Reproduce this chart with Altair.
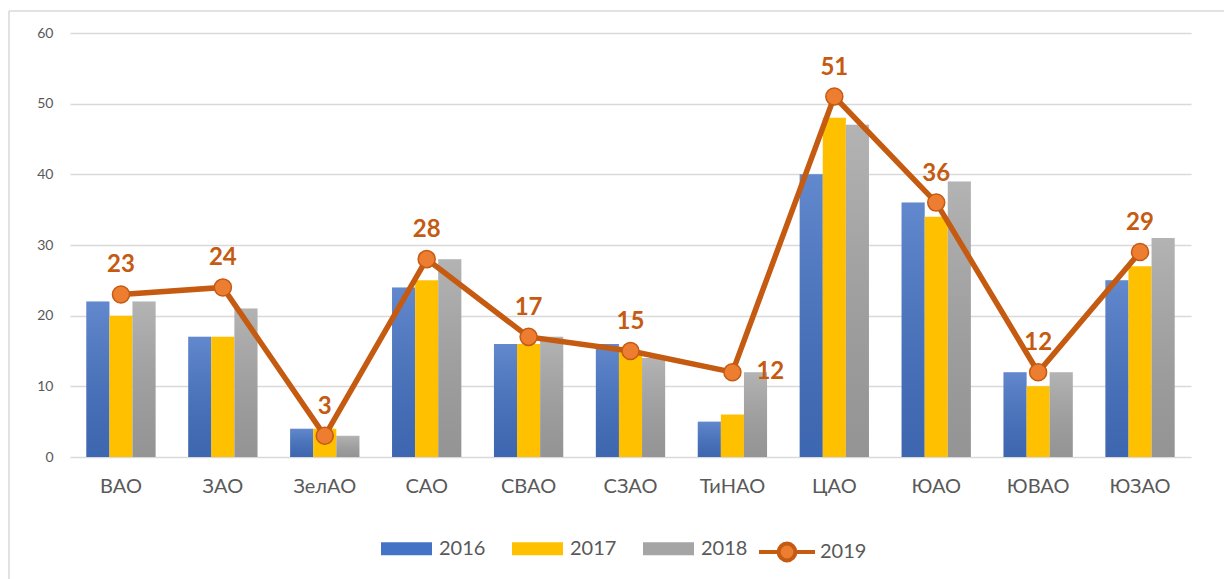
import altair as alt
import pandas as pd

districts = ["ВАО", "ЗАО", "ЗелАО", "САО", "СВАО", "СЗАО", "ТиНАО", "ЦАО", "ЮАО", "ЮВАО", "ЮЗАО"]
v2016 = [22, 17, 4, 24, 16, 16, 5, 40, 36, 12, 25]
v2017 = [20, 17, 4, 25, 16, 15, 6, 48, 34, 10, 27]
v2018 = [22, 21, 3, 28, 17, 14, 12, 47, 39, 12, 31]
v2019 = [23, 24, 3, 28, 17, 15, 12, 51, 36, 12, 29]
bar_years = ["2016", "2017", "2018"]
line_year = "2019"
bar_colors = ["#4472C4", "#FFC000", "#A5A5A5"]

rows = []
for yr, vals in zip(bar_years, [v2016, v2017, v2018]):
    for d, v in zip(districts, vals):
        rows.append({"district": d, "year": yr, "value": v})
bars_df = pd.DataFrame(rows)
line_df = pd.DataFrame({"district": districts, "value": v2019, "series": [line_year] * len(districts)})

FONT = "Lato"
W, H = 1121, 424

x_enc = alt.X("district:N", sort=districts, title=None,
              scale=alt.Scale(paddingInner=0.32, paddingOuter=0.16),
              axis=alt.Axis(labelFontSize=20, labelColor="#595959", labelPadding=19,
                            ticks=False, domain=False, labelAngle=0, labelFont=FONT))
y_enc = alt.Y("value:Q", title=None, scale=alt.Scale(domain=[0, 60], nice=False),
              axis=alt.Axis(values=[0, 10, 20, 30, 40, 50, 60], labelFontSize=14,
                            labelColor="#595959", labelPadding=17, ticks=False, domain=False,
                            gridColor="#d9d9d9", gridWidth=1.3, labelFont=FONT))

rect_sym = "M-1,-0.255H1V0.255H-1Z"
bars = alt.Chart(bars_df).mark_bar().encode(
    x=x_enc, y=y_enc,
    xOffset=alt.XOffset("year:N", sort=bar_years, scale=alt.Scale(paddingInner=0, paddingOuter=0)),
    color=alt.Color("year:N", sort=bar_years,
                    scale=alt.Scale(domain=bar_years, range=bar_colors),
                    legend=alt.Legend(title=None, orient="none", direction="horizontal",
                                      legendX=310, legendY=489, symbolType=rect_sym,
                                      symbolSize=2601, labelFontSize=20, labelColor="#595959",
                                      labelFont=FONT, labelOffset=6, columnPadding=25,
                                      symbolOpacity=1)),
)

shade = alt.Chart(bars_df).transform_filter(
    alt.datum.year != "2017"
).mark_bar(
    color=alt.Gradient(gradient="linear", x1=0, x2=0, y1=0, y2=1,
                       stops=[alt.GradientStop(color="rgba(255,255,255,0.16)", offset=0),
                              alt.GradientStop(color="rgba(0,0,0,0.10)", offset=1)])
).encode(
    x=alt.X("district:N", sort=districts),
    y=alt.Y("value:Q"),
    xOffset=alt.XOffset("year:N", sort=bar_years),
)

line = alt.Chart(line_df).mark_line(strokeWidth=5.5, color="#C55A11").encode(
    x=alt.X("district:N", sort=districts), y=alt.Y("value:Q"))

line_sym = ("M-1,0H-0.3M0.3,0H1"
            "M-0.3,0A0.3,0.3 0 1,0 0.3,0A0.3,0.3 0 1,0 -0.3,0Z")
points = alt.Chart(line_df).mark_point(filled=True, size=290, stroke="#C55A11",
                                       strokeWidth=1.5, opacity=1).encode(
    x=alt.X("district:N", sort=districts), y=alt.Y("value:Q"),
    fill=alt.Fill("series:N", scale=alt.Scale(domain=[line_year], range=["#ED7D31"]),
                  legend=alt.Legend(title=None, orient="none", direction="horizontal",
                                    legendX=687, legendY=489, symbolType=line_sym,
                                    symbolSize=3136, symbolStrokeColor="#C55A11",
                                    symbolStrokeWidth=4, labelFontSize=20,
                                    labelColor="#595959", labelFont=FONT, labelOffset=3,
                                    symbolOpacity=1)),
)

labels_above = alt.Chart(line_df).transform_filter(
    alt.datum.district != "ТиНАО"
).mark_text(fontSize=24, fontWeight="bold", color="#C55A11", font=FONT, dy=-29,
            baseline="middle").encode(
    x=alt.X("district:N", sort=districts), y=alt.Y("value:Q"), text="value:Q")

labels_right = alt.Chart(line_df).transform_filter(
    alt.datum.district == "ТиНАО"
).mark_text(fontSize=24, fontWeight="bold", color="#C55A11", font=FONT, dx=24,
            align="left", baseline="middle").encode(
    x=alt.X("district:N", sort=districts), y=alt.Y("value:Q"), text="value:Q")

frame_top = alt.Chart(alt.Data(values=[{}])).mark_rule(
    stroke="#d9d9d9", strokeWidth=1.5
).encode(x=alt.value(-61), x2=alt.value(1300), y=alt.value(-22))
frame_left = alt.Chart(alt.Data(values=[{}])).mark_rule(
    stroke="#d9d9d9", strokeWidth=1.5
).encode(x=alt.value(-61), y=alt.value(-22), y2=alt.value(700))

chart = alt.layer(frame_top, frame_left, bars, shade, line, points, labels_above,
                  labels_right).resolve_scale(
    color="independent", fill="independent"
).properties(
    width=W, height=H,
    autosize=alt.AutoSizeParams(type="none"),
    padding={"left": 62, "top": 25, "right": 33, "bottom": 122},
).configure(background="white").configure_view(stroke=None)

chart.save("out.html", embed_options={"renderer": "svg", "actions": False})
